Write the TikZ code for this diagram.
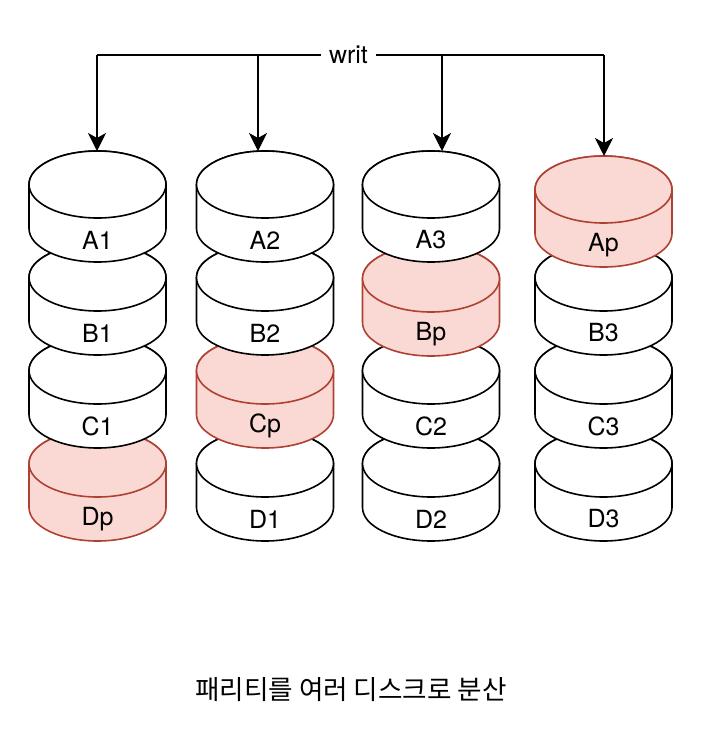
\documentclass[tikz,border=0pt]{standalone}
\usepackage{fontspec}
\setmainfont{TeX Gyre Heros}
\newfontfamily\krfont{Noto Sans CJK KR}
\usetikzlibrary{arrows.meta}
\definecolor{pfill}{HTML}{FAD9D5}
\definecolor{pdraw}{HTML}{AE4132}
\newcommand\mycyl[5]{%
  \pgfmathsetmacro\cx{#2}%
  \pgfmathsetmacro\ty{-(#3)}%
  \path[#5] (\cx-68.5,\ty-33.5) -- (\cx-68.5,\ty-77.5)
     arc[start angle=180,end angle=360,x radius=68.5pt,y radius=33.5pt]
     -- (\cx+68.5,\ty-33.5)
     arc[start angle=0,end angle=180,x radius=68.5pt,y radius=33.5pt] -- cycle;
  \draw[#5] (\cx,\ty-33.5) ellipse[x radius=68.5pt,y radius=33.5pt];
  \coordinate (#1top) at (\cx,\ty);
  \node[lbl] (#1) at (\cx,\ty-89) {#4};
}
\begin{document}
\begin{tikzpicture}[x=1pt,y=1pt,line width=1.6pt,
  plain/.style={draw=black,fill=white},
  pink/.style={draw=pdraw,fill=pfill},
  arr/.style={-{Stealth[length=18pt,width=18pt,inset=5pt]}},
  lbl/.style={font=\fontsize{25}{29}\selectfont,inner sep=0pt}]
\useasboundingbox (0,0) rectangle (726,-736);
% column 1
\mycyl{Dp}{97.5}{430}{Dp}{pink}
\mycyl{C1}{97.5}{337}{C1}{plain}
\mycyl{B1}{97.5}{244}{B1}{plain}
\mycyl{A1}{97.5}{151}{A1}{plain}
% column 2
\mycyl{D1}{265}{430}{D1}{plain}
\mycyl{Cp}{265}{337}{Cp}{pink}
\mycyl{B2}{265}{244}{B2}{plain}
\mycyl{A2}{265}{151}{A2}{plain}
% column 3
\mycyl{D2}{431}{430}{D2}{plain}
\mycyl{C2}{431}{337}{C2}{plain}
\mycyl{Bp}{431}{245}{Bp}{pink}
\mycyl{A3}{431}{151}{A3}{plain}
% column 4
\mycyl{D3}{603.5}{430}{D3}{plain}
\mycyl{C3}{603.5}{337}{C3}{plain}
\mycyl{B3}{603.5}{244}{B3}{plain}
\mycyl{Ap}{603.5}{156}{Ap}{pink}
% write fan-out
\node[lbl,inner xsep=7.5pt] (writ) at (348.5,-55) {writ};
\coordinate (b1) at (97,-55);
\coordinate (b2) at (258,-55);
\coordinate (b3) at (442,-55);
\coordinate (b4) at (604,-55);
\draw (writ.west) -- (b1);
\draw (writ.east) -- (b4);
\draw[arr] (b1) -- (b1 |- A1top);
\draw[arr] (b2) -- (b2 |- A2top);
\draw[arr] (b3) -- (b3 |- A3top);
\draw[arr] (b4) -- (b4 |- Aptop);
% caption
\node[font=\krfont\fontsize{26.6}{30}\selectfont,inner sep=0pt] (cap) at (351,-690) {패리티를 여러 디스크로 분산};
\end{tikzpicture}
\end{document}
